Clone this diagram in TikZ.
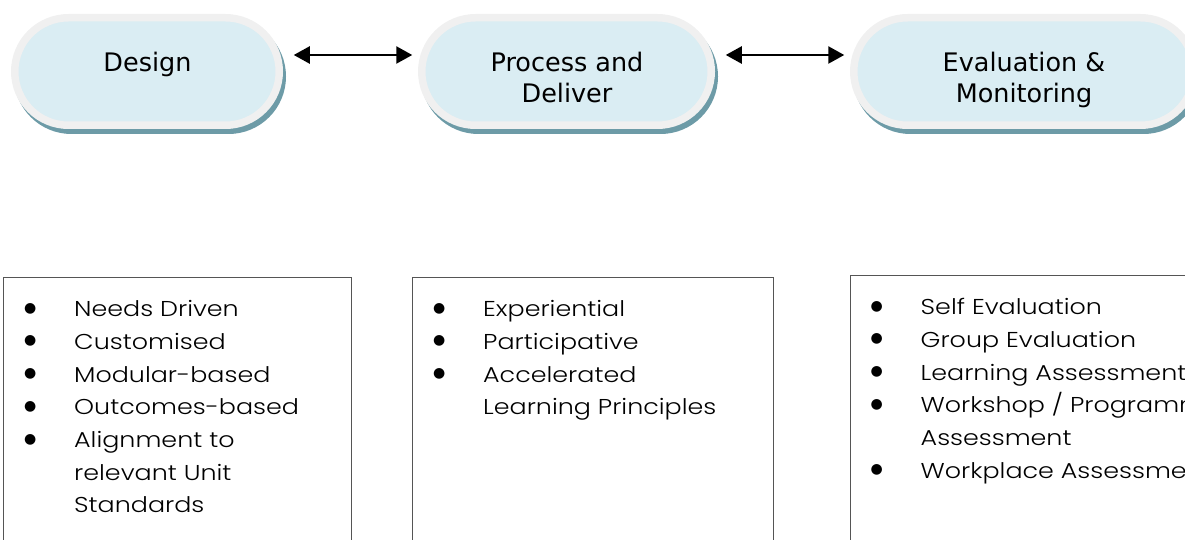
\documentclass[tikz,border=0pt]{standalone}
\usepackage{fontspec}
\usepackage{array}
\newfontfamily\stadfont{DejaVu Sans}
\IfFontExistsTF{Poppins Light}
  {\newfontfamily\listfont[FakeStretch=1.18]{Poppins Light}}
  {\newfontfamily\listfont[FakeStretch=1.18]{Poppins}}
\newfontfamily\bulfont{DejaVu Sans}
\usetikzlibrary{arrows.meta}
\definecolor{stadfill}{HTML}{DAEDF3}
\definecolor{stadring}{HTML}{F0F0F0}
\definecolor{stadshadow}{HTML}{6D9BA7}
\definecolor{boxline}{HTML}{555555}
\newcommand{\bul}{\makebox[53pt][c]{\raisebox{4.5pt}{\bulfont\fontsize{14}{14}\selectfont ●}}\hspace*{17.5pt}}
\newcommand{\ind}{\hspace*{70.5pt}}
\tikzset{
  stad/.style={rectangle, rounded corners=53.7pt, minimum height=107.5pt, inner sep=0pt, outer sep=0pt,
    fill=stadfill, draw=stadring, line width=7.5pt,
    preaction={draw=stadshadow, fill=stadshadow, line width=7.5pt,
      transform canvas={xshift=3pt,yshift=-5pt}}},
  stadtext/.style={anchor=base, inner sep=0pt, font=\stadfont\fontsize{25.5}{31}\selectfont},
  listbox/.style={rectangle, draw=boxline, line width=1pt, anchor=north west, inner sep=0pt, outer sep=0pt, minimum height=300pt},
  listtext/.style={anchor=base west, inner sep=0pt, font=\listfont\fontsize{21.5}{32.7}\selectfont},
  biarrow/.style={{Triangle[length=16pt,width=17pt]}-{Triangle[length=16pt,width=17pt]}, line width=2.4pt, shorten <=14.5pt, shorten >=9.5pt}
}
\begin{document}
\begin{tikzpicture}[x=1pt,y=-1pt]
\useasboundingbox (0,0) rectangle (1185,540);
\clip (0,0) rectangle (1185,540);
% top stadiums
\node[stad, minimum width=264.5pt] (d1) at (147,71.5) {};
\node[stad, minimum width=289.5pt] (d2) at (566.5,71.5) {};
\node[stad, minimum width=340.5pt] (d3) at (1024,71.5) {};
\node[stadtext] (t1) at (147.5,72) {\begin{tabular}[t]{@{}c@{}}Design\end{tabular}};
\node[stadtext] (t2) at (567,72) {\begin{tabular}[t]{@{}c@{}}Process and\\Deliver\end{tabular}};
\node[stadtext] (t3) at (1024,72) {\begin{tabular}[t]{@{}c@{}}Evaluation \&\\Monitoring\end{tabular}};
% arrows
\draw[biarrow] ([yshift=16.5pt]d1.east) -- ([yshift=16.5pt]d2.west);
\draw[biarrow] ([yshift=16.5pt]d2.east) -- ([yshift=16.5pt]d3.west);
% boxes
\node[listbox, minimum width=348pt] (b1) at (3.5,277.5) {};
\node[listbox, minimum width=361pt] (b2) at (412.5,277.5) {};
\node[listbox, minimum width=360pt] (b3) at (850.5,275.5) {};
\node[listtext] (l1) at (3.5,316.7) {\begin{tabular}[t]{@{}l@{}}
\bul Needs Driven\\
\bul Customised\\
\bul Modular-based\\
\bul Outcomes-based\\
\bul Alignment to\\
\ind relevant Unit\\
\ind Standards
\end{tabular}};
\node[listtext] (l2) at (412.5,316.7) {\begin{tabular}[t]{@{}l@{}}
\bul Experiential\\
\bul Participative\\
\bul Accelerated\\
\ind Learning Principles
\end{tabular}};
\node[listtext] (l3) at (850,314.7) {\begin{tabular}[t]{@{}l@{}}
\bul Self Evaluation\\
\bul Group Evaluation\\
\bul Learning Assessment\\
\bul Workshop / Programme\\
\ind Assessment\\
\bul Workplace Assessment
\end{tabular}};
\end{tikzpicture}
\end{document}
